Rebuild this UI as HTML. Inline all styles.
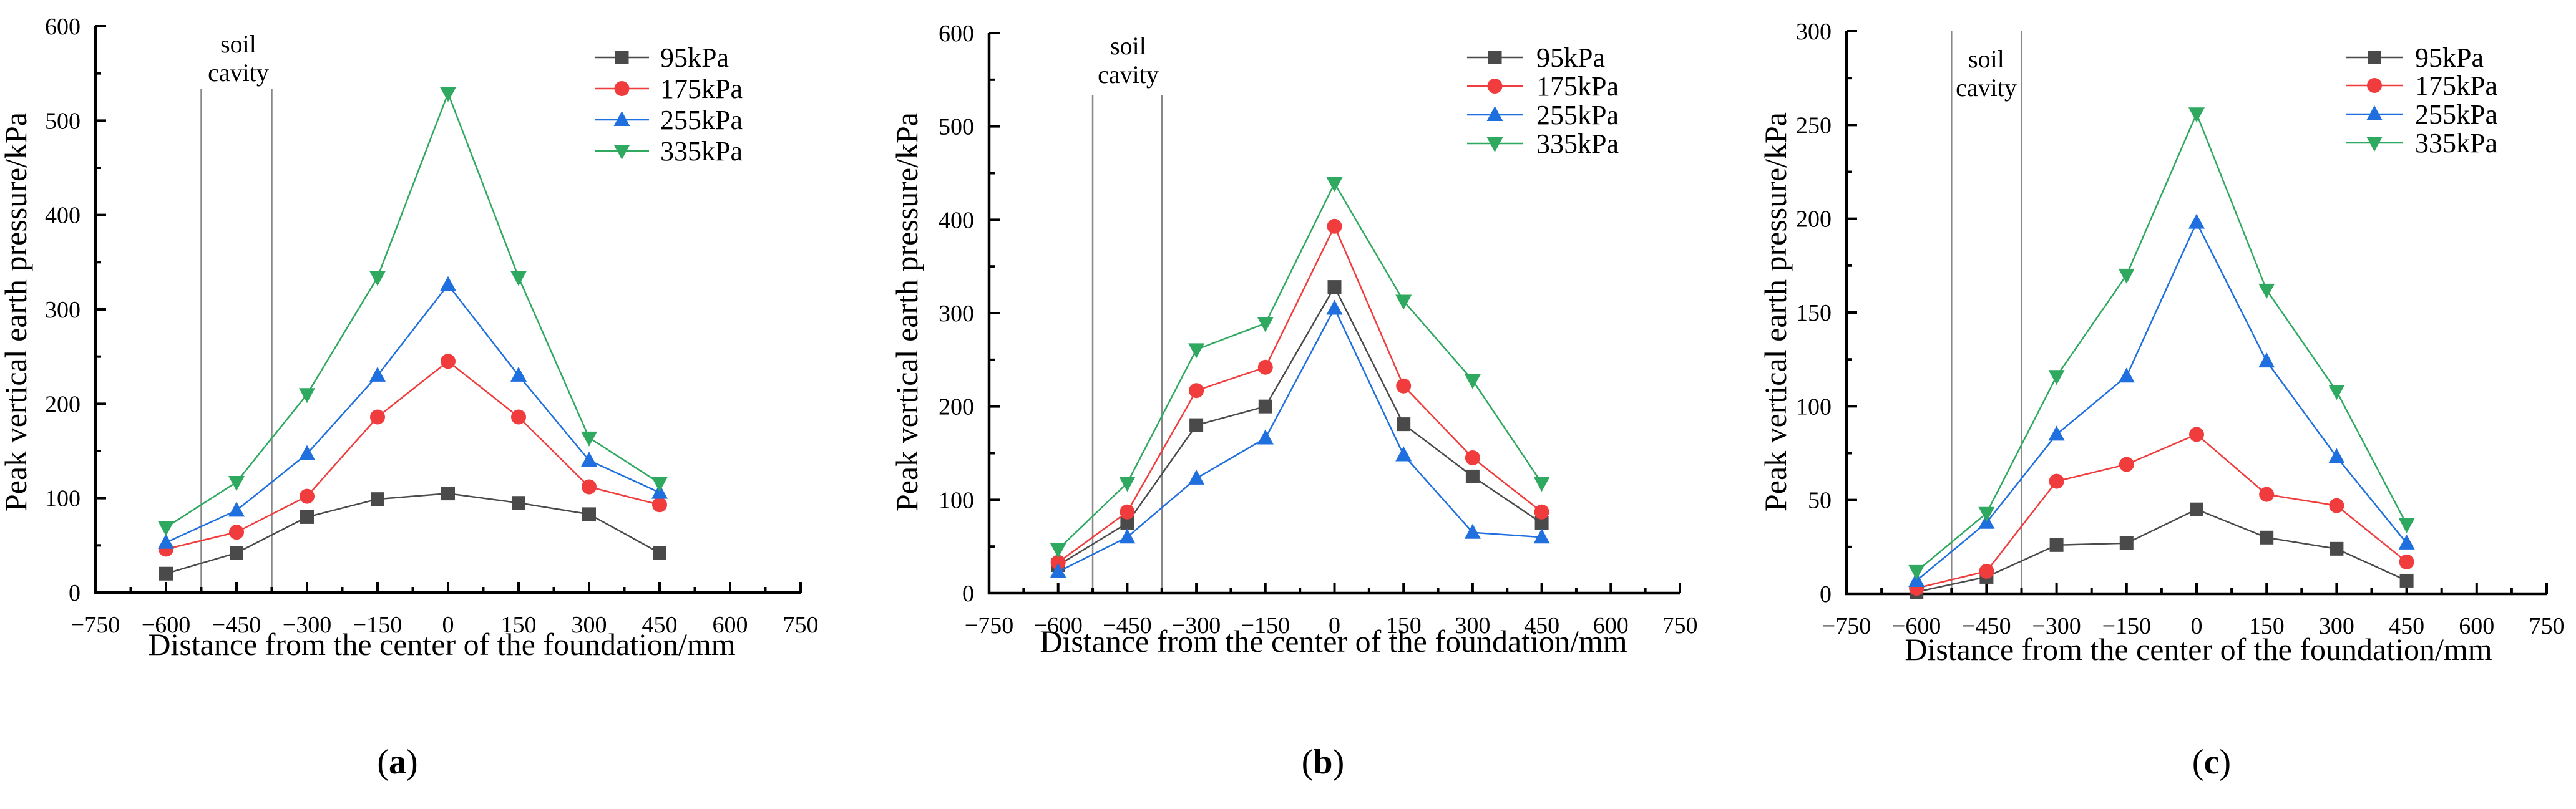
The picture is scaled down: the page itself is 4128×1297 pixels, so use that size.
<!DOCTYPE html>
<html><head><meta charset="utf-8"><style>
html,body{margin:0;padding:0;background:#fff;}
svg{display:block;}
svg text{font-family:"Liberation Serif","Times New Roman","DejaVu Serif",serif;}
</style></head><body>
<svg id="chart" width="4128" height="1297" viewBox="0 0 4128 1297" xmlns="http://www.w3.org/2000/svg"></svg>
<script>
const xCats = [-600,-450,-300,-150,0,150,300,450];
const xTicks = [-750,-600,-450,-300,-150,0,150,300,450,600,750];
const seriesNames = ["95kPa","175kPa","255kPa","335kPa"];
const a95 = [20,42,80,99,105,95,83,42];
const a175 = [46,64,102,186,245,186,112,93];
const a255 = [53,87,147,230,326,230,140,106];
const a335 = [69,117,210,334,529,334,164,116];
const b95 = [30,75,180,200,328,181,125,75];
const b175 = [33,87,217,242,393,222,145,87];
const b255 = [23,60,123,166,305,148,65,60];
const b335 = [47,118,261,289,439,313,228,118];
const c95 = [1,9,26,27,45,30,24,7];
const c175 = [3,12,60,69,85,53,47,17];
const c255 = [7,38,85,116,198,124,73,27];
const c335 = [12,43,116,170,256,162,108,37];
const aYTicks = [0,100,200,300,400,500,600];
const bYTicks = [0,100,200,300,400,500,600];
const cYTicks = [0,50,100,150,200,250,300];

const NS="http://www.w3.org/2000/svg";
const svg=document.getElementById('chart');
const colors=["#4a4a4a","#f03c3c","#1f6fdf","#2fa860"];
function mk(tag,attrs,parent){const e=document.createElementNS(NS,tag);for(const k in attrs)e.setAttribute(k,attrs[k]);if(tag==='text')e.style.fontFamily='"Liberation Serif","DejaVu Serif",serif';(parent||svg).appendChild(e);return e;}
function marker(g,kind,cx,cy,col){
  let m;
  if(kind===0) m=mk('rect',{x:cx-11,y:cy-11,width:22,height:22,fill:col},g);
  else if(kind===1) m=mk('circle',{cx:cx,cy:cy,r:12,fill:col},g);
  else if(kind===2) m=mk('polygon',{points:`${cx},${cy-14} ${cx+13},${cy+10} ${cx-13},${cy+10}`,fill:col},g);
  else m=mk('polygon',{points:`${cx},${cy+14} ${cx+13},${cy-10} ${cx-13},${cy-10}`,fill:col},g);
  return m;
}
const panels=[
 {id:'a',x0:153,x1:1283,y0:950,y1:42,ymax:600,yt:aYTicks,data:[a95,a175,a255,a335],cavTop:142,cavText:[382,84,130],leg:[953,1040,1058,[92,142,192,242]],ytitle:[42,500],xtitle:[708,1050],lab:[637,1240]},
 {id:'b',x0:1585,x1:2692,y0:951,y1:53,ymax:600,yt:bYTicks,data:[b95,b175,b255,b335],cavTop:153,cavText:[1808,87,133],leg:[2351,2440,2462,[92,138,184,230]],ytitle:[1470,500],xtitle:[2137,1045],lab:[2120,1240]},
 {id:'c',x0:2959,x1:4081,y0:952,y1:50,ymax:300,yt:cYTicks,data:[c95,c175,c255,c335],cavTop:50,cavText:[3183,108,154],leg:[3760,3850,3870,[92,137,183,229]],ytitle:[2862,500],xtitle:[3523,1058],lab:[3544,1240]}
];
panels.forEach(p=>{
  const g=mk('g',{});
  
  
  const X=v=>p.x0+(v+750)/1500*(p.x1-p.x0);
  const Y=v=>p.y0-(v/p.ymax)*(p.y0-p.y1);
  [-525,-375].forEach(v=>{const l=mk('line',{x1:X(v),x2:X(v),y1:p.cavTop,y2:p.y0,stroke:'#888','stroke-width':2.5},g);
    });
  const ct=mk('text',{x:p.cavText[0],y:p.cavText[1],'font-size':40,'text-anchor':'middle',fill:'#000'},g);ct.textContent='soil';
  
  const ct2=mk('text',{x:p.cavText[0],y:p.cavText[2],'font-size':40,'text-anchor':'middle',fill:'#000'},g);ct2.textContent='cavity';
  
  const ax=mk('path',{d:`M${p.x0},${p.y1} V${p.y0} H${p.x1}`,fill:'none',stroke:'#000','stroke-width':4.5},g);
  
  for(let i=0;i<p.yt.length;i++){
    const v=p.yt[i];
    mk('line',{x1:p.x0,x2:p.x0+17,y1:Y(v),y2:Y(v),stroke:'#000','stroke-width':4},g);
    if(i<p.yt.length-1){const mv=(v+p.yt[i+1])/2;mk('line',{x1:p.x0,x2:p.x0+9,y1:Y(mv),y2:Y(mv),stroke:'#000','stroke-width':4},g);}
    const t=mk('text',{x:p.x0-24,y:Y(v)+13,'font-size':38,'text-anchor':'end',fill:'#000'},g);t.textContent=String(v);
    
  }
  for(let i=0;i<xTicks.length;i++){
    const v=xTicks[i];
    mk('line',{x1:X(v),x2:X(v),y1:p.y0,y2:p.y0-17,stroke:'#000','stroke-width':4},g);
    if(i<xTicks.length-1){const mv=v+75;mk('line',{x1:X(mv),x2:X(mv),y1:p.y0,y2:p.y0-9,stroke:'#000','stroke-width':4},g);}
    const t=mk('text',{x:X(v),y:p.y0+64,'font-size':38,'text-anchor':'middle',fill:'#000'},g);t.textContent=(v<0?'\u2212'+(-v):String(v));
    
  }
  p.data.forEach((arr,si)=>{
    const sg=mk('g',{},g);
    
    mk('polyline',{points:arr.map((v,i)=>X(xCats[i])+','+Y(v)).join(' '),fill:'none',stroke:colors[si],'stroke-width':2.5},sg);
    arr.forEach((v,i)=>{const m=marker(sg,si,X(xCats[i]),Y(v),colors[si]);
      });
  });
  const lg=mk('g',{},g);
  
  seriesNames.forEach((n,si)=>{
    const y=p.leg[3][si];
    const eg=mk('g',{},lg);
    
    mk('line',{x1:p.leg[0],x2:p.leg[1],y1:y,y2:y,stroke:colors[si],'stroke-width':2.5},eg);
    marker(eg,si,(p.leg[0]+p.leg[1])/2,y,colors[si]);
    const t=mk('text',{x:p.leg[2],y:y+15,'font-size':44,fill:'#000'},eg);t.textContent=n;
  });
  const yt=mk('text',{x:p.ytitle[0],y:p.ytitle[1],'font-size':50,'text-anchor':'middle',fill:'#000',transform:`rotate(-90 ${p.ytitle[0]} ${p.ytitle[1]})`},g);
  yt.textContent='Peak vertical earth pressure/kPa';
  
  const xt=mk('text',{x:p.xtitle[0],y:p.xtitle[1],'font-size':50,'text-anchor':'middle',fill:'#000'},g);
  xt.textContent='Distance from the center of the foundation/mm';
  
  const lb=mk('text',{x:p.lab[0],y:p.lab[1],'font-size':56,'text-anchor':'middle',fill:'#000'},g);
  lb.innerHTML='(<tspan font-weight="bold">'+p.id+'</tspan>)';
  
});
</script>
</body></html>
